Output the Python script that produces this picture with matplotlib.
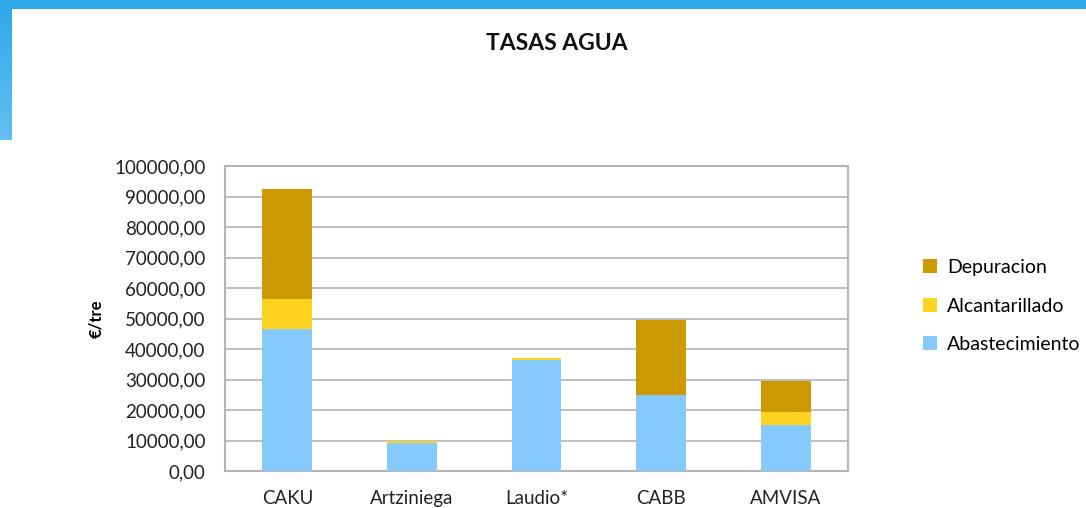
import matplotlib.pyplot as plt
import numpy as np
from matplotlib.patches import Rectangle
from matplotlib.colors import LinearSegmentedColormap

plt.rcParams['font.family'] = ['Lato', 'DejaVu Sans']

categories = ['CAKU', 'Artziniega', 'Laudio*', 'CABB', 'AMVISA']
abastecimiento = [46500, 9300, 36500, 24800, 15000]
alcantarillado = [10000, 600, 400, 0, 4400]
depuracion = [36000, 0, 0, 24600, 10000]

col_abast = '#85C9FD'
col_alcan = '#FFD320'
col_depur = '#CC9900'
grid_col = '#B4B4B4'

fig = plt.figure(figsize=(10.86, 5.08), dpi=100)

# slide decoration: blue bar on top and fading bar on the left
fig.patches.append(Rectangle((0, 1 - 9 / 508), 1, 9 / 508, transform=fig.transFigure,
                             facecolor='#2EA8E8', edgecolor='none', zorder=0))
deco = fig.add_axes([0, 1 - 140 / 508, 12 / 1086, 140 / 508])
grad = np.linspace(0, 1, 100).reshape(-1, 1)
deco.imshow(grad, aspect='auto', cmap=LinearSegmentedColormap.from_list('b', ['#2EA8E8', '#62BFF2']))
deco.axis('off')

ax = fig.add_axes([225 / 1086, 37 / 508, 623 / 1086, 305 / 508])
x = np.arange(len(categories))
w = 0.40
b1 = np.array(abastecimiento)
b2 = b1 + np.array(alcantarillado)
ax.bar(x, abastecimiento, w, color=col_abast, label='Abastecimiento', zorder=3)
ax.bar(x, alcantarillado, w, bottom=b1, color=col_alcan, label='Alcantarillado', zorder=3)
ax.bar(x, depuracion, w, bottom=b2, color=col_depur, label='Depuracion', zorder=3)

ax.set_xlim(-0.5, len(categories) - 0.5)
ax.set_ylim(0, 100000)
ax.set_yticks(np.arange(0, 100001, 10000))
ax.set_yticklabels([f'{v},00' for v in range(0, 100001, 10000)], fontsize=13.5, color='#222222')
ax.set_xticks(x)
ax.set_xticklabels(categories, fontsize=13.5, color='#222222')
ax.tick_params(axis='x', length=0, pad=14)
ax.tick_params(axis='y', length=0, pad=14)
ax.yaxis.grid(True, color=grid_col, linewidth=1.2, zorder=0)
for s in ax.spines.values():
    s.set_color(grid_col)
    s.set_linewidth(1.5)
ax.set_ylabel('€/tre', fontsize=12, fontweight='bold', labelpad=7)

handles, labels = ax.get_legend_handles_labels()
fig.legend(handles[::-1], labels[::-1], loc='center left', bbox_to_anchor=(905 / 1086, 1 - 306 / 508),
           frameon=False, fontsize=14, handlelength=0.75, handleheight=0.75,
           labelspacing=1.1, handletextpad=0.5)

fig.text(557 / 1086, 1 - 44 / 508, 'TASAS AGUA', ha='center', va='center',
         fontsize=16.5, fontweight='bold', color='#111111')

fig.savefig('out.png', dpi=100)
